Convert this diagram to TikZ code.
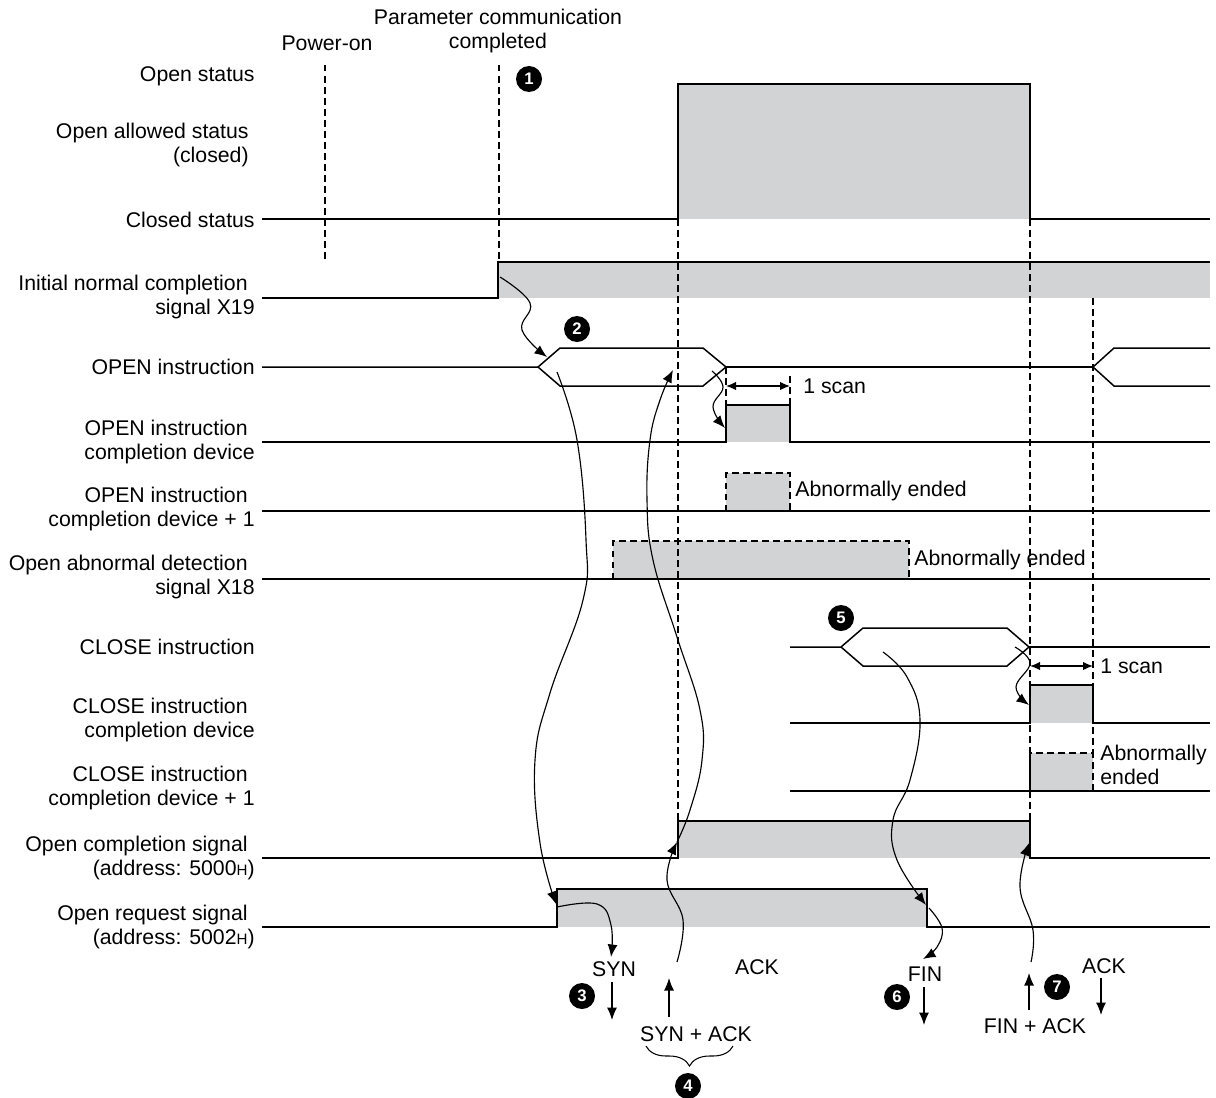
\documentclass[tikz,border=0pt]{standalone}
\usepackage{fontspec}
\setmainfont{Liberation Sans}
\usetikzlibrary{arrows.meta,decorations.pathreplacing}
\definecolor{sgray}{RGB}{209,211,212}
\newcommand{\hexH}{{\fontsize{8.6}{8.6}\selectfont H}}

\begin{document}
\begin{tikzpicture}[x=0.2mm,y=-0.2mm]
  \tikzset{
    sig/.style={draw=black, line width=0.85pt},
    gr/.style={fill=sgray, draw=none},
    dl/.style={draw=black, line width=0.85pt, dash pattern=on 1.3mm off 0.9mm},
    arr/.style={draw=black, line width=0.65pt, -{Latex[length=2.5mm,width=2mm]}},
    dim/.style={draw=black, line width=0.75pt, {Latex[length=2mm,width=1.7mm]}-{Latex[length=2mm,width=1.7mm]}},
    lab/.style={anchor=east, align=right, inner sep=0pt, font=\fontsize{12.1}{14}\selectfont},
    txt/.style={inner sep=0pt, font=\fontsize{12.1}{14}\selectfont},
    num/.style={circle, fill=black, text=white, inner sep=0pt, minimum size=5.2mm, font=\fontsize{9.5}{9.5}\selectfont\bfseries}
  }
  \useasboundingbox (0,0) rectangle (1216,1097);

  % row labels (right aligned)
  \node[lab] (lOpen)   at (255,76)  {Open status};
  \node[lab] (lAllow)  at (249,145) {Open allowed status\\(closed)};
  \node[lab] (lClosed) at (255,220) {Closed status};
  \node[lab] (lX19)    at (255,297) {Initial normal completion\hspace*{1.4mm}\\signal X19};
  \node[lab] (lOpnI)   at (255,367) {OPEN instruction};
  \node[lab] (lOpnD)   at (255,442) {OPEN instruction\hspace*{1.4mm}\\completion device};
  \node[lab] (lOpnD1)  at (255,509) {OPEN instruction\hspace*{1.4mm}\\completion device + 1};
  \node[lab] (lX18)    at (255,577) {Open abnormal detection\hspace*{1.4mm}\\signal X18};
  \node[lab] (lClsI)   at (255,647) {CLOSE instruction};
  \node[lab] (lClsD)   at (255,720) {CLOSE instruction\hspace*{1.4mm}\\completion device};
  \node[lab] (lClsD1)  at (255,788) {CLOSE instruction\hspace*{1.4mm}\\completion device + 1};
  \node[lab] (lOcs)    at (255,858) {Open completion signal\hspace*{1.4mm}\\(address: 5000\hexH)};
  \node[lab] (lOrs)    at (255,927) {Open request signal\hspace*{1.4mm}\\(address: 5002\hexH)};

  % top marks
  \node[txt] (tPow) at (327,43) {Power-on};
  \node[txt, align=center] (tPar) at (498,31) {Parameter communication\\completed};
  \draw[dl] (325,65) -- (325,263);
  \draw[dl] (499,65) -- (499,262);

  % gray fills
  \fill[gr] (678,84) rectangle (1030,219);
  \fill[gr] (498,262) rectangle (1210,298);
  \fill[gr] (726,405) rectangle (790,442);
  \fill[gr] (726,473) rectangle (790,511);
  \fill[gr] (613,541) rectangle (909,579);
  \fill[gr] (1030,685) rectangle (1093,723);
  \fill[gr] (1030,753) rectangle (1093,791);
  \fill[gr] (678,821) rectangle (1030,858);
  \fill[gr] (557,889) rectangle (927,927);

  % long dashed guides
  \draw[dl] (678,219) -- (678,821);
  \draw[dl] (1030,219) -- (1030,821);
  \draw[dl] (1093,298) -- (1093,753);
  \draw[dl] (726,367) -- (726,405);
  \draw[dl] (790,376) -- (790,405);

  % signals
  \draw[sig] (262,219) -- (678,219) -- (678,84) -- (1030,84) -- (1030,219) -- (1210,219);
  \draw[sig] (262,298) -- (498,298) -- (498,262) -- (1210,262);
  \draw[sig] (262,367) -- (538,367) -- (560,348) -- (703,348) -- (726,367) -- (703,386) -- (560,386) -- (538,367);
  \draw[sig] (726,367) -- (1093,367);
  \draw[sig] (1210,348) -- (1114,348) -- (1093,367) -- (1114,386) -- (1210,386);
  \draw[sig] (262,442) -- (726,442) -- (726,405) -- (790,405) -- (790,442) -- (1210,442);
  \draw[sig] (262,511) -- (1210,511);
  \draw[dl]  (726,511) -- (726,473) -- (790,473) -- (790,511);
  \draw[sig] (262,579) -- (1210,579);
  \draw[dl]  (613,579) -- (613,541) -- (909,541) -- (909,579);
  \draw[sig] (790,647) -- (841,647) -- (863,628) -- (1007,628) -- (1029,647) -- (1007,666) -- (863,666) -- (841,647);
  \draw[sig] (1029,647) -- (1210,647);
  \draw[sig] (790,723) -- (1030,723) -- (1030,685) -- (1093,685) -- (1093,723) -- (1210,723);
  \draw[sig] (790,791) -- (1210,791);
  \draw[dl]  (1030,791) -- (1030,753) -- (1093,753) -- (1093,791);
  \draw[sig] (262,858) -- (678,858) -- (678,821) -- (1030,821) -- (1030,858) -- (1210,858);
  \draw[sig] (262,927) -- (557,927) -- (557,889) -- (927,889) -- (927,927) -- (1210,927);

  % 1 scan
  \coordinate (s1a) at (726,386);
  \coordinate (s1b) at (790,386);
  \coordinate (s2a) at (1030,666);
  \coordinate (s2b) at (1093,666);
  \draw[dim] (s1a) -- (s1b);
  \draw[dim] (s2a) -- (s2b);
  \node[txt, anchor=west] (tScan1) at (803,386) {1 scan};
  \node[txt, anchor=west] (tScan2) at (1100,666) {1 scan};

  % abnormal end notes
  \node[txt, anchor=west] (tAb1) at (795,491) {Abnormally ended};
  \node[txt, anchor=west] (tAb2) at (914,560) {Abnormally ended};
  \node[txt, anchor=west, align=left] (tAb3) at (1100,765) {Abnormally\\ended};

  % curve ends
  \coordinate (x19on)  at (500,277);
  \coordinate (opnL)   at (547,357);
  \coordinate (opnIn)  at (557,372);
  \coordinate (reqOn)  at (556,904);
  \coordinate (reqOut) at (557,907);
  \coordinate (synTop) at (611,957);
  \coordinate (sakTop) at (677,962);
  \coordinate (ocsOn)  at (677,842);
  \coordinate (opnMid) at (673,370);
  \coordinate (opnR)   at (712,371);
  \coordinate (odOn)   at (725,428);
  \coordinate (clsIn)  at (883,652);
  \coordinate (reqOff) at (926,905);
  \coordinate (finOut) at (929,908);
  \coordinate (finTop) at (923,959);
  \coordinate (clsR)   at (1015,647);
  \coordinate (cdOn)   at (1029,705);
  \coordinate (faTop)  at (1031,962);
  \coordinate (ocsOff) at (1029,843);

  % causal curves
  \draw[arr] plot[smooth, tension=0.7] coordinates {(x19on) (530,303) (522,330) (opnL)};
  \draw[arr] plot[smooth, tension=0.7] coordinates {(opnIn) (577,440) (586,540) (583,600) (550,693) (535,760) (540,843) (reqOn)};
  \draw[arr] plot[smooth, tension=0.7] coordinates {(reqOut) (597,904) (611,925) (synTop)};
  \draw[arr] plot[smooth, tension=0.7] coordinates {(sakTop) (683,920) (667,880) (ocsOn)};
  \draw[arr] plot[smooth, tension=0.7] coordinates {(ocsOn) (690,810) (702,760) (700,710) (677,637) (653,560) (647,500) (650,440) (660,400) (opnMid)};
  \draw[arr] plot[smooth, tension=0.7] coordinates {(opnR) (723,387) (713,407) (odOn)};
  \draw[arr] plot[smooth, tension=0.7] coordinates {(clsIn) (907,677) (920,720) (910,780) (893,820) (897,860) (reqOff)};
  \draw[arr] plot[smooth, tension=0.7] coordinates {(finOut) (942,928) (937,947) (finTop)};
  \draw[arr] plot[smooth, tension=0.7] coordinates {(clsR) (1030,663) (1016,687) (cdOn)};
  \draw[arr] plot[smooth, tension=0.7] coordinates {(faTop) (1033,930) (1020,887) (ocsOff)};

  % handshake at the bottom
  \node[txt] (tSyn)  at (614,969)  {SYN};
  \node[txt] (tAck1) at (757,967)  {ACK};
  \node[txt] (tSA)   at (696,1034) {SYN + ACK};
  \node[txt] (tFin)  at (925,974)  {FIN};
  \node[txt] (tFA)   at (1035,1026) {FIN + ACK};
  \node[txt] (tAck2) at (1104,966) {ACK};
  \coordinate (a3s) at (612,982);   \coordinate (a3e) at (612,1020);
  \coordinate (a4s) at (669,1017);  \coordinate (a4e) at (669,978);
  \coordinate (a6s) at (924,987);   \coordinate (a6e) at (924,1025);
  \coordinate (a7s) at (1029,1010); \coordinate (a7e) at (1029,973);
  \coordinate (a8s) at (1101,978);  \coordinate (a8e) at (1101,1015);
  \draw[arr] (a3s) -- (a3e);
  \draw[arr] (a4s) -- (a4e);
  \draw[arr] (a6s) -- (a6e);
  \draw[arr] (a7s) -- (a7e);
  \draw[arr] (a8s) -- (a8e);
  \coordinate (brL) at (646,1046);
  \coordinate (brR) at (733,1046);
  \draw[decorate, decoration={brace, mirror, amplitude=4mm}, line width=0.6pt] (brL) -- (brR);

  % step numbers
  \node[num] (n1) at (529,79)   {1};
  \node[num] (n2) at (577,329)  {2};
  \node[num] (n3) at (582,996)  {3};
  \node[num] (n4) at (688,1086) {4};
  \node[num] (n5) at (841,618)  {5};
  \node[num] (n6) at (897,997)  {6};
  \node[num] (n7) at (1057,987) {7};
\end{tikzpicture}
\end{document}
